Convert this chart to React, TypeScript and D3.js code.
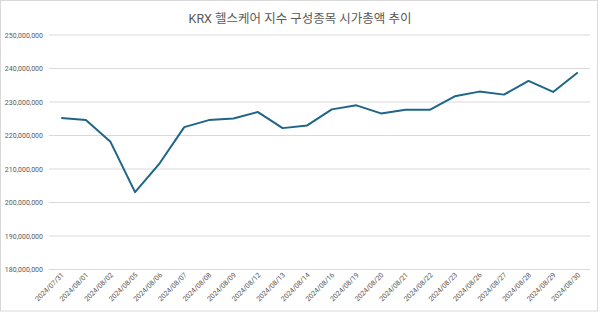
import React from "react";
import * as d3 from "d3";

const dates = [
  "2024/07/31", "2024/08/01", "2024/08/02", "2024/08/05", "2024/08/06", "2024/08/07",
  "2024/08/08", "2024/08/09", "2024/08/12", "2024/08/13", "2024/08/14", "2024/08/16",
  "2024/08/19", "2024/08/20", "2024/08/21", "2024/08/22", "2024/08/23", "2024/08/26",
  "2024/08/27", "2024/08/28", "2024/08/29", "2024/08/30",
];
const marketCap = [
  225.2e6, 224.6e6, 218.1e6, 203.1e6, 211.7e6, 222.5e6,
  224.6e6, 225.1e6, 227.0e6, 222.2e6, 223.0e6, 227.8e6,
  229.0e6, 226.6e6, 227.7e6, 227.7e6, 231.7e6, 233.1e6,
  232.2e6, 236.3e6, 233.0e6, 238.8e6,
];
const yTicks = [180e6, 190e6, 200e6, 210e6, 220e6, 230e6, 240e6, 250e6];
const title = "KRX 헬스케어 지수 구성종목 시가총액 추이";

const W = 600, H = 312;
const left = 49, right = 590, top = 35, bottom = 269.5;

export default function App() {
  const x = d3.scaleBand<string>().domain(dates).range([left, right]);
  const y = d3.scaleLinear().domain([180e6, 250e6]).range([bottom, top]);
  const fmt = d3.format(",");
  const line = d3.line<number>()
    .x((_, i) => (x(dates[i]) as number) + x.bandwidth() / 2)
    .y((d) => y(d));
  const font = "Roboto, 'Noto Sans CJK KR', sans-serif";
  return (
    <svg width={W} height={H} style={{ position: "absolute", left: 0, top: 0, display: "block" }}>
      <rect x={0.5} y={0.5} width={W - 3} height={H - 1.5} fill="#fff" stroke="#d9d9d9" />
      <text x={300} y={22.5} textAnchor="middle" fontFamily={font} fontSize={12.5} fill="#595959">{title}</text>
      {yTicks.map((t) => (
        <g key={t}>
          <line x1={left} x2={right} y1={y(t)} y2={y(t)} stroke="#d9d9d9" strokeWidth={1} />
          <text x={43} y={y(t) + 2.5} textAnchor="end" fontFamily={font} fontSize={7} fill="#595959">{fmt(t)}</text>
        </g>
      ))}
      {dates.map((d) => {
        const cx = (x(d) as number) + x.bandwidth() / 2;
        return (
          <text key={d} transform={`translate(${cx + 3},${bottom + 6}) rotate(-45)`} textAnchor="end" fontFamily={font} fontSize={7} fill="#595959">{d}</text>
        );
      })}
      <path d={line(marketCap) || ""} fill="none" stroke="#1f6587" strokeWidth={2} strokeLinejoin="round" />
    </svg>
  );
}
